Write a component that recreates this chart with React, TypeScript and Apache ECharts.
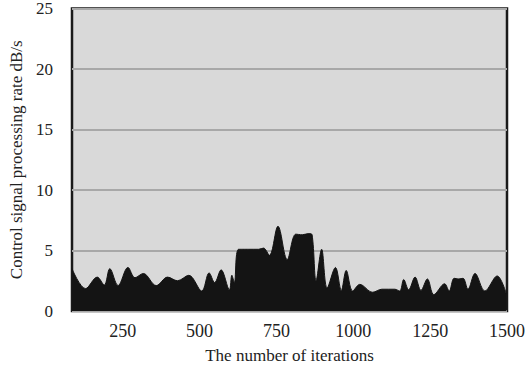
import React, { useEffect, useRef } from "react";
import * as echarts from "echarts";

const iterations = [
  85, 129, 167, 190, 208, 235, 267, 290, 317, 359, 396, 428, 465, 507, 531, 549, 570, 597, 605, 613,
  627, 660, 692, 708, 727, 755, 785, 813, 834, 855, 866, 879, 897, 915, 942, 961, 977, 998, 1021,
  1063, 1093, 1115, 1135, 1151, 1164, 1180, 1201, 1220, 1241, 1262, 1297, 1312, 1328, 1343, 1357,
  1373, 1396, 1428, 1468, 1498,
];
const rates = [
  3.5, 1.85, 2.8, 2.15, 3.5, 2.1, 3.6, 2.75, 3.1, 2.1, 2.8, 2.5, 2.95, 1.65, 3.15, 2.35, 3.4, 1.75, 2.95, 2.35,
  5.1, 5.1, 5.1, 5.2, 4.6, 7.0, 4.25, 6.35, 6.3, 6.4, 6.3, 2.5, 5.1, 1.9, 3.6, 1.7, 3.35, 1.65, 2.2,
  1.55, 1.8, 1.8, 1.8, 1.65, 2.6, 1.75, 2.8, 1.7, 2.65, 1.35, 2.25, 1.65, 2.7, 2.65, 2.7,
  1.8, 3.1, 1.65, 2.9, 1.4,
];
const xTickLabels = [250, 500, 750, 1000, 1250, 1500];
const yTicks = [0, 5, 10, 15, 20, 25];

const FONT = "'Liberation Serif', 'DejaVu Serif', serif";

export default function App() {
  const ref = useRef<HTMLDivElement>(null);
  useEffect(() => {
    if (!ref.current) return;
    const chart = echarts.init(ref.current, undefined, { renderer: "svg" });
    chart.setOption({
      animation: false,
      grid: {
        show: true,
        left: 62,
        right: 20,
        top: 6,
        bottom: 58,
        backgroundColor: "#d9d9d9",
        borderColor: "#1a1a1a",
        borderWidth: 2.5,
      },
      xAxis: {
        type: "value",
        min: 85,
        max: 1500,
        name: "The number of iterations",
        nameLocation: "middle",
        nameGap: 36,
        nameTextStyle: { fontFamily: FONT, fontSize: 17, color: "#222" },
        axisLine: { show: false },
        axisTick: { show: false },
        splitLine: { show: false },
        axisLabel: {
          customValues: xTickLabels,
          formatter: (v: number) => String(v),
          fontFamily: FONT,
          fontSize: 18,
          color: "#222",
          margin: 11,
        },
      },
      yAxis: {
        type: "value",
        min: yTicks[0],
        max: yTicks[yTicks.length - 1],
        interval: 5,
        name: "Control signal processing rate dB/s",
        nameLocation: "middle",
        nameGap: 47,
        nameTextStyle: { fontFamily: FONT, fontSize: 17, color: "#222" },
        axisLine: { show: false },
        axisTick: { show: false },
        splitLine: { show: true, lineStyle: { color: "#a8a8a8", width: 2 } },
        axisLabel: { fontFamily: FONT, fontSize: 17, color: "#222", margin: 19 },
      },
      series: [
        {
          type: "line",
          data: iterations.map((x, i) => [x, rates[i]]),
          smooth: 0.35,
          showSymbol: false,
          lineStyle: { color: "#141414", width: 1 },
          areaStyle: { color: "#141414", opacity: 1 },
        },
      ],
    });
    return () => chart.dispose();
  }, []);
  return (
    <div
      ref={ref}
      style={{ position: "fixed", left: 0, top: 0, width: 528, height: 369, background: "#fff" }}
    />
  );
}
